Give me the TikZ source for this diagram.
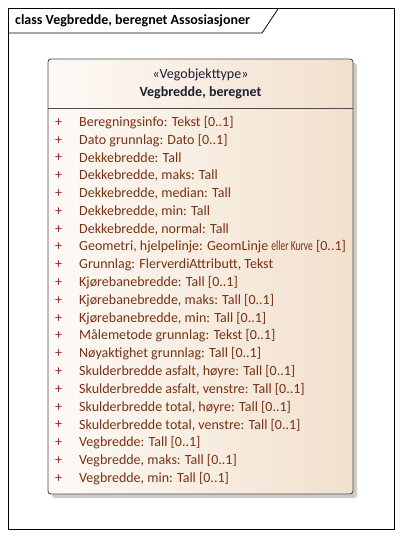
\documentclass[tikz,border=0pt]{standalone}
\usepackage{fontspec}
\setmainfont{Carlito}
\usetikzlibrary{shadings}
\definecolor{peach}{RGB}{242,224,205}
\definecolor{peachl}{RGB}{253,250,246}
\definecolor{attr}{RGB}{120,50,20}
\definecolor{plus}{RGB}{160,40,40}
\definecolor{namec}{RGB}{30,30,50}
\tikzset{
  frameline/.style={draw=black, line width=0.8bp},
  classbox/.style={draw=black!70, line width=0.9bp, rounded corners=3bp, left color=peachl, right color=peach},
  attrtext/.style={anchor=west, inner sep=0pt, text=attr, font=\fontsize{14bp}{16bp}\selectfont},
  plustext/.style={anchor=center, inner sep=0pt, text=plus, font=\fontsize{14bp}{16bp}\selectfont},
}
\begin{document}
\begin{tikzpicture}[x=1bp,y=-1bp]
\useasboundingbox (0,0) rectangle (403,538);
% frame
\draw[frameline] (8,8) rectangle (394,529);
\coordinate (t1) at (8,33);
\coordinate (t2) at (262,33);
\coordinate (t3) at (278,9);
\draw[frameline] (t1) -- (t2) -- (t3);
\node[anchor=west, inner sep=0pt, font=\fontsize{14bp}{16bp}\selectfont\bfseries] (title) at (15,20.5) {class Vegbredde, beregnet Assosiasjoner};
% shadow
\fill[black!20, rounded corners=3bp] (52,63) rectangle (357,498);
% class box
\draw[classbox] (48,59) rectangle (353,494);
\coordinate (s1) at (48,108);
\coordinate (s2) at (353,108);
\draw[black!70, line width=0.9bp] (s1) -- (s2);
\node[inner sep=0pt, text=namec, font=\fontsize{14bp}{16bp}\selectfont] (stereo) at (200.5,75) {«Vegobjekttype»};
\node[inner sep=0pt, text=namec, font=\fontsize{14bp}{16bp}\selectfont\bfseries] (cname) at (200.5,93) {Vegbredde, beregnet};
% attributes
\foreach \t [count=\i from 0] in {
  {Beregningsinfo: Tekst [0..1]},
  {Dato grunnlag: Dato [0..1]},
  {Dekkebredde: Tall},
  {Dekkebredde, maks: Tall},
  {Dekkebredde, median: Tall},
  {Dekkebredde, min: Tall},
  {Dekkebredde, normal: Tall},
  {Geometri, hjelpelinje: GeomLinje \scalebox{0.68}[1]{eller Kurve} [0..1]},
  {Grunnlag: FlerverdiAttributt, Tekst},
  {Kjørebanebredde: Tall [0..1]},
  {Kjørebanebredde, maks: Tall [0..1]},
  {Kjørebanebredde, min: Tall [0..1]},
  {Målemetode grunnlag: Tekst [0..1]},
  {Nøyaktighet grunnlag: Tall [0..1]},
  {Skulderbredde asfalt, høyre: Tall [0..1]},
  {Skulderbredde asfalt, venstre: Tall [0..1]},
  {Skulderbredde total, høyre: Tall [0..1]},
  {Skulderbredde total, venstre: Tall [0..1]},
  {Vegbredde: Tall [0..1]},
  {Vegbredde, maks: Tall [0..1]},
  {Vegbredde, min: Tall [0..1]}} {
  \node[plustext] (p\i) at (58.5,{122.5+17.8*\i}) {+};
  \node[attrtext] (a\i) at (79,{122.5+17.8*\i}) {\t};
}
\end{tikzpicture}
\end{document}
